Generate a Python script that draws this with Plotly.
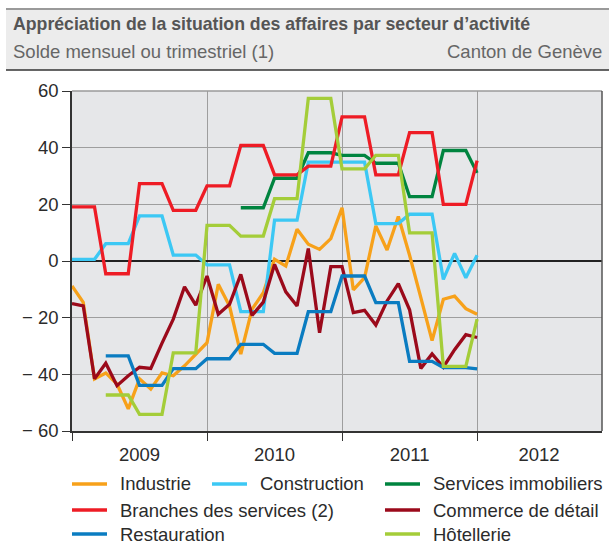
import plotly.graph_objects as go

# ---------------- data (monthly index, Jan 2009 = 0) ----------------
months = list(range(37))

industrie = [-8.8, -14.6, -41.6, -39.5, -43.4, -52.2, -41.6, -45.2, -39.5, -40.5, -37, -33,
             -28.8, -8.2, -15.9, -32.9, -17, -11.2, 0.6, -1.8, 11.2, 5.9, 4.1, 7.9,
             18.8, -10.2, -5.9, 12.4, 3.9, 15.7, 2, -12.9, -28.1, -13.5, -12.4, -16.8, -18.8]

construction = [0.6, 0.6, 0.6, 6.1, 6.1, 6.1, 15.9, 15.9, 15.9, 2.1, 2.1, 2.1,
                -1.4, -1.4, -1.4, -17.9, -17.9, -17.9, 14.4, 14.4, 14.4, 34.9, 34.9, 34.9,
                34.9, 34.9, 34.9, 13.2, 13.2, 13.2, 16.5, 16.5, 16.5, -6.5, 2.7, -5.9, 2]

services_immobiliers = [None] * 15 + [18.8, 18.8, 18.8, 29.2, 29.2, 29.2, 38.2, 38.2, 38.2,
                                      37.3, 37.3, 37.3, 34.5, 34.5, 34.5, 22.7, 22.7, 22.7,
                                      39, 39, 39, 31.1]

branches_services = [19.1, 19.1, 19.1, -4.5, -4.5, -4.5, 27.3, 27.3, 27.3, 17.9, 17.9, 17.9,
                     26.5, 26.5, 26.5, 40.8, 40.8, 40.8, 30.4, 30.4, 30.4, 33.5, 33.5, 33.5,
                     50.9, 50.9, 50.9, 30.4, 30.4, 30.4, 45.3, 45.3, 45.3, 20, 20, 20, 35.4]

commerce_detail = [-15, -15.8, -41.6, -36.1, -44, -40.5, -37.5, -37.9, -29, -20.5, -9.1, -15.6,
                   -5.3, -18.8, -15.3, -4.7, -19.2, -14.5, -1.2, -10.9, -15.9, 4.4, -25.3, -2,
                   -2, -18.2, -17.4, -22.6, -14.1, -8, -17.2, -37.9, -32.8, -37.5, -31.3, -26, -27]

restauration = [None, None, None, -33.5, -33.5, -33.5, -43.9, -43.9, -43.9, -38, -38, -38,
                -34.5, -34.5, -34.5, -29.4, -29.4, -29.4, -32.6, -32.6, -32.6, -17.9, -17.9, -17.9,
                -5.3, -5.3, -5.3, -14.7, -14.7, -14.7, -35.4, -35.4, -35.4, -37.6, -37.6, -37.6, -38.1]

hotellerie = [None, None, None, -47.3, -47.3, -47.3, -54.1, -54.1, -54.1, -32.4, -32.4, -32.4,
              12.6, 12.6, 12.6, 8.8, 8.8, 8.8, 22, 22, 22, 57.4, 57.4, 57.4,
              32.5, 32.5, 32.5, 37.3, 37.3, 37.3, 9.9, 9.9, 9.9, -37.2, -37.2, -37.2, -20.5]

year_labels = ["2009", "2010", "2011", "2012"]
year_label_pos = [6, 18, 30, 41.5]
year_bounds = [0, 12, 24, 36]
y_ticks = [60, 40, 20, 0, -20, -40, -60]
y_ticktext = ["60", "40", "20", "0", "− 20", "− 40", "− 60"]

series = [
    ("Industrie", industrie, "#F7A11A"),
    ("Construction", construction, "#3CC8F4"),
    ("Services immobiliers", services_immobiliers, "#00843F"),
    ("Branches des services (2)", branches_services, "#EE1C25"),
    ("Commerce de détail", commerce_detail, "#9B0A1B"),
    ("Restauration", restauration, "#0A7CC1"),
    ("Hôtellerie", hotellerie, "#A4CD39"),
]

FONT = "Liberation Sans, Arial, sans-serif"
TXT = "#2b2b2b"

fig = go.Figure()
for name, vals, col in series:
    fig.add_trace(go.Scatter(x=months, y=vals, mode="lines", name=name,
                             line=dict(color=col, width=3.3), connectgaps=False,
                             showlegend=False, hoverinfo="skip"))

# plot area in pixels: x 72..602, y 91..431
L, R, T, B = 72, 602, 91, 431
W, H = 609, 544
def px(x):
    return (x - L) / (R - L)
def py(y):
    return (B - y) / (B - T)

shapes = []
annotations = []

# title band
shapes.append(dict(type="rect", xref="paper", yref="paper", x0=px(6), x1=px(609),
                   y0=py(70), y1=py(9), fillcolor="#ECECEC", line=dict(width=0), layer="below"))
shapes.append(dict(type="line", xref="paper", yref="paper", x0=px(6), x1=px(609),
                   y0=py(9), y1=py(9), line=dict(color="#9A9A9A", width=2)))
shapes.append(dict(type="line", xref="paper", yref="paper", x0=px(6), x1=px(609),
                   y0=py(70), y1=py(70), line=dict(color="#333333", width=1.5)))
annotations.append(dict(xref="paper", yref="paper", x=px(11), y=py(24), xanchor="left",
                        yanchor="middle", showarrow=False,
                        text="<b>Appréciation de la situation des affaires par secteur d’activité</b>",
                        font=dict(family=FONT, size=17.7, color="#555555")))
annotations.append(dict(xref="paper", yref="paper", x=px(11), y=py(52), xanchor="left",
                        yanchor="middle", showarrow=False,
                        text="Solde mensuel ou trimestriel (1)",
                        font=dict(family=FONT, size=18.5, color="#666666")))
annotations.append(dict(xref="paper", yref="paper", x=px(604), y=py(52), xanchor="right",
                        yanchor="middle", showarrow=False,
                        text="Canton de Genève",
                        font=dict(family=FONT, size=18.5, color="#666666")))

# frame: top and right edges
shapes.append(dict(type="line", xref="paper", yref="paper", x0=0, x1=1, y0=1, y1=1,
                   line=dict(color="#9A9A9A", width=1.5)))
shapes.append(dict(type="line", xref="paper", yref="paper", x0=1, x1=1, y0=0, y1=1,
                   line=dict(color="#555555", width=1.5)))

# legend (manual, three columns)
legend_layout = [
    (0, 72, 484), (1, 212, 484), (2, 385, 484),
    (3, 72, 510), (4, 385, 510),
    (5, 72, 534), (6, 385, 534),
]
for idx, lx, ly in legend_layout:
    name, _, col = series[idx]
    shapes.append(dict(type="line", xref="paper", yref="paper", x0=px(lx), x1=px(lx + 35),
                       y0=py(ly), y1=py(ly), line=dict(color=col, width=3.5)))
    annotations.append(dict(xref="paper", yref="paper", x=px(lx + 46), y=py(ly),
                            xanchor="left", yanchor="middle", showarrow=False, text=name,
                            font=dict(family=FONT, size=18.5, color=TXT)))

fig.update_layout(
    width=W, height=H,
    margin=dict(l=L, r=W - R, t=T, b=H - B, pad=0),
    paper_bgcolor="white",
    plot_bgcolor="#E6E7E9",
    font=dict(family=FONT, size=18.5, color=TXT),
    shapes=shapes,
    annotations=annotations,
    showlegend=False,
    xaxis=dict(
        range=[0, 47.1],
        tickmode="array", tickvals=year_label_pos, ticktext=year_labels,
        ticks="outside", ticklen=6, tickcolor="rgba(0,0,0,0)",
        showgrid=False, zeroline=False,
        showline=True, linecolor="#333333", linewidth=1.5,
        tickfont=dict(family=FONT, size=18.5, color=TXT),
        minor=dict(tickmode="array", tickvals=year_bounds, ticks="outside", ticklen=8,
                   tickcolor="#333333", tickwidth=1.2, showgrid=True,
                   gridcolor="#9E9E9E", gridwidth=1.3),
    ),
    yaxis=dict(
        range=[-60, 60],
        tickmode="array", tickvals=y_ticks, ticktext=y_ticktext,
        ticks="outside", ticklen=8, tickcolor="#333333", tickwidth=1.2,
        showgrid=True, gridcolor="#9E9E9E", gridwidth=1.3,
        zeroline=True, zerolinecolor="#222222", zerolinewidth=1.5,
        showline=True, linecolor="#333333", linewidth=1.5,
        tickfont=dict(family=FONT, size=18.5, color=TXT),
    ),
)

fig.write_html("out.html", config={"displayModeBar": False},
               post_script="document.body.style.margin='0';document.body.style.padding='0';")
